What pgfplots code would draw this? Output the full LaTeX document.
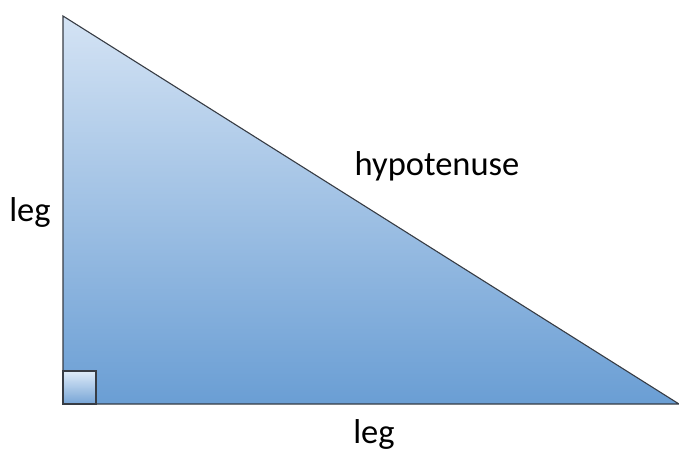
\documentclass[border=0pt]{standalone}
\usepackage{pgfplots}
\pgfplotsset{compat=1.18}
\usepackage{fontspec}
\setmainfont{Carlito}
\definecolor{triTop}{RGB}{212,227,244}
\definecolor{triBot}{RGB}{106,158,212}
\definecolor{sqTop}{RGB}{222,235,248}
\definecolor{sqBot}{RGB}{118,164,214}
\definecolor{edge}{RGB}{55,60,68}
\begin{document}
\begin{tikzpicture}
\path[use as bounding box] (0,0) rectangle (679bp,454bp);
\begin{axis}[
  at={(63bp,50bp)}, anchor=south west,
  scale only axis, width=616bp, height=388bp,
  xmin=0, xmax=616, ymin=0, ymax=388,
  hide axis, clip=false,
]
\addplot[draw=edge, line width=1.1bp, mark=none, line join=miter,
  top color=triTop, bottom color=triBot]
  coordinates {(0,0) (0,388) (616,0)} -- cycle;
\addplot[draw=edge, line width=1.3bp, mark=none,
  top color=sqTop, bottom color=sqBot]
  coordinates {(0,0) (0,33) (33,33) (33,0)} -- cycle;
\node[anchor=base, font=\fontsize{34.5bp}{38bp}\selectfont] at (axis cs:374,228) {hypotenuse};
\node[anchor=base, font=\fontsize{34.5bp}{38bp}\selectfont] at (axis cs:311,-39) {leg};
\node[anchor=base, font=\fontsize{34.5bp}{38bp}\selectfont] at (axis cs:-33,182) {leg};
\end{axis}
\end{tikzpicture}
\end{document}
